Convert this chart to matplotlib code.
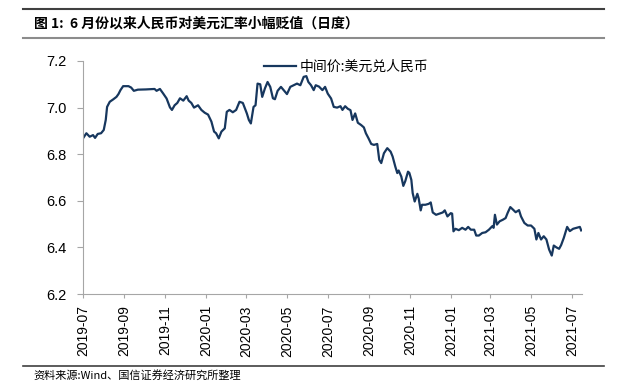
import pandas as pd
import matplotlib
matplotlib.use("Agg")
import matplotlib.pyplot as plt
import matplotlib.dates as mdates
from matplotlib.lines import Line2D

plt.rcParams['font.family'] = ['Liberation Sans', 'Noto Sans CJK SC', 'DejaVu Sans']

# central parity USD/CNY
dates = [
    "2019-07-01", "2019-07-06", "2019-07-11", "2019-07-16", "2019-07-19", "2019-07-23",
    "2019-07-28", "2019-08-01", "2019-08-04", "2019-08-06", "2019-08-10", "2019-08-15",
    "2019-08-20", "2019-08-23", "2019-08-26", "2019-08-30", "2019-09-07", "2019-09-11",
    "2019-09-15", "2019-09-21", "2019-10-03", "2019-10-16", "2019-10-19", "2019-10-24",
    "2019-10-29", "2019-11-03", "2019-11-08", "2019-11-11", "2019-11-15", "2019-11-19",
    "2019-11-23", "2019-11-28", "2019-12-03", "2019-12-06", "2019-12-10", "2019-12-14",
    "2019-12-20", "2019-12-25", "2019-12-30", "2020-01-04", "2020-01-09", "2020-01-13",
    "2020-01-16", "2020-01-20", "2020-01-24", "2020-01-29", "2020-02-01", "2020-02-05",
    "2020-02-10", "2020-02-15", "2020-02-20", "2020-02-25", "2020-03-02", "2020-03-05",
    "2020-03-08", "2020-03-12", "2020-03-15", "2020-03-18", "2020-03-22", "2020-03-25",
    "2020-03-29", "2020-04-02", "2020-04-06", "2020-04-10", "2020-04-13", "2020-04-17",
    "2020-04-22", "2020-04-26", "2020-05-01", "2020-05-06", "2020-05-11", "2020-05-16",
    "2020-05-21", "2020-05-26", "2020-05-30", "2020-06-02", "2020-06-06", "2020-06-10",
    "2020-06-13", "2020-06-18", "2020-06-23", "2020-06-27", "2020-07-01", "2020-07-06",
    "2020-07-10", "2020-07-15", "2020-07-20", "2020-07-23", "2020-07-27", "2020-07-31",
    "2020-08-04", "2020-08-07", "2020-08-11", "2020-08-15", "2020-08-20", "2020-08-24",
    "2020-08-27", "2020-08-31", "2020-09-04", "2020-09-08", "2020-09-13", "2020-09-16",
    "2020-09-19", "2020-09-23", "2020-09-28", "2020-10-03", "2020-10-06", "2020-10-10",
    "2020-10-13", "2020-10-15", "2020-10-19", "2020-10-22", "2020-10-25", "2020-10-29",
    "2020-10-31", "2020-11-03", "2020-11-05", "2020-11-08", "2020-11-12", "2020-11-14",
    "2020-11-17", "2020-11-19", "2020-11-24", "2020-11-29", "2020-12-02", "2020-12-05",
    "2020-12-10", "2020-12-15", "2020-12-20", "2020-12-23", "2020-12-27", "2021-01-01",
    "2021-01-03", "2021-01-05", "2021-01-08", "2021-01-13", "2021-01-18", "2021-01-23",
    "2021-01-27", "2021-01-31", "2021-02-05", "2021-02-08", "2021-02-12", "2021-02-17",
    "2021-02-22", "2021-02-27", "2021-03-04", "2021-03-06", "2021-03-08", "2021-03-11",
    "2021-03-15", "2021-03-20", "2021-03-24", "2021-03-27", "2021-03-31", "2021-04-03",
    "2021-04-08", "2021-04-13", "2021-04-16", "2021-04-21", "2021-04-26", "2021-05-01",
    "2021-05-06", "2021-05-09", "2021-05-12", "2021-05-16", "2021-05-20", "2021-05-24",
    "2021-05-28", "2021-06-01", "2021-06-04", "2021-06-08", "2021-06-12", "2021-06-15",
    "2021-06-19", "2021-06-24", "2021-06-28", "2021-07-03", "2021-07-08", "2021-07-13",
    "2021-07-15",
]
rates = [
    6.868, 6.890, 6.875, 6.882, 6.870, 6.887,
    6.890, 6.904, 6.947, 7.003, 7.025, 7.035,
    7.046, 7.058, 7.075, 7.092, 7.092, 7.086,
    7.072, 7.077, 7.078, 7.080, 7.072, 7.080,
    7.060, 7.039, 7.001, 6.990, 7.010, 7.020,
    7.040, 7.030, 7.049, 7.030, 7.020, 7.000,
    7.010, 6.990, 6.978, 6.970, 6.940, 6.897,
    6.890, 6.868, 6.897, 6.911, 6.982, 6.990,
    6.980, 6.990, 7.025, 7.020, 6.975, 6.947,
    6.932, 7.003, 7.010, 7.103, 7.100, 7.046,
    7.082, 7.110, 7.089, 7.040, 7.036, 7.072,
    7.089, 7.075, 7.058, 7.089, 7.096, 7.103,
    7.096, 7.132, 7.135, 7.110, 7.096, 7.075,
    7.096, 7.090, 7.075, 7.089, 7.060, 7.039,
    7.003, 7.000, 7.006, 6.990, 7.006, 6.995,
    6.989, 6.947, 6.975, 6.935, 6.925, 6.915,
    6.890, 6.868, 6.844, 6.840, 6.844, 6.776,
    6.762, 6.804, 6.826, 6.811, 6.790, 6.747,
    6.719, 6.730, 6.704, 6.664, 6.685, 6.725,
    6.720, 6.690, 6.633, 6.597, 6.630, 6.610,
    6.559, 6.583, 6.583, 6.587, 6.593, 6.550,
    6.540, 6.545, 6.550, 6.559, 6.533, 6.547,
    6.545, 6.469, 6.480, 6.474, 6.484, 6.476,
    6.488, 6.476, 6.476, 6.451, 6.451, 6.462,
    6.465, 6.476, 6.491, 6.484, 6.540, 6.498,
    6.512, 6.519, 6.526, 6.548, 6.573, 6.565,
    6.551, 6.560, 6.533, 6.505, 6.494, 6.494,
    6.480, 6.434, 6.462, 6.434, 6.448, 6.434,
    6.391, 6.365, 6.408, 6.400, 6.394, 6.410,
    6.441, 6.488, 6.470, 6.480, 6.484, 6.488,
    6.473,
]
series_label = "中间价:美元兑人民币"
title = "图 1:  6 月份以来人民币对美元汇率小幅贬值（日度）"
source = "资料来源:Wind、国信证券经济研究所整理"

df = pd.DataFrame({"date": pd.to_datetime(dates), "rate": rates})

fig = plt.figure(figsize=(6.27, 3.81), dpi=100)
ax = fig.add_axes([0.1324, 0.2283, 0.7956, 0.6116])

ax.plot(df["date"], df["rate"], color="#17375E", lw=1.6, label=series_label)

ax.set_ylim(6.2, 7.2)
ax.set_yticks([6.2, 6.4, 6.6, 6.8, 7.0, 7.2])
ax.yaxis.set_major_formatter(plt.FormatStrFormatter("%.1f"))
ax.set_xlim(pd.Timestamp("2019-07-01"), pd.Timestamp("2021-07-16"))
ax.xaxis.set_major_locator(mdates.MonthLocator(bymonth=[1, 3, 5, 7, 9, 11]))
ax.xaxis.set_major_formatter(mdates.DateFormatter("%Y-%m"))

for s in ["top", "right"]:
    ax.spines[s].set_visible(False)
for s in ["left", "bottom"]:
    ax.spines[s].set_color("#A6A6A6")
    ax.spines[s].set_linewidth(0.8)
ax.tick_params(axis="y", colors="#A6A6A6", labelcolor="black", length=4, width=0.8, pad=8, labelsize=10.5)
ax.tick_params(axis="x", colors="#A6A6A6", labelcolor="black", length=3, width=0.8, pad=5, labelsize=10,
               labelrotation=90)

leg = ax.legend(loc="upper center", bbox_to_anchor=(0.528, 1.06), frameon=False, handlelength=2.3,
                handletextpad=0.3, prop={"family": ["Noto Sans CJK SC", "DejaVu Sans"], "size": 10})

# header / footer rules
fig.add_artist(Line2D([0.0367, 0.9633], [0.9756, 0.9756], color="#404040", lw=1.5))
fig.add_artist(Line2D([0.0367, 0.9633], [0.9003, 0.9003], color="#8C8C8C", lw=1.5))
fig.add_artist(Line2D([0.0367, 0.9633], [0.0394, 0.0394], color="#404040", lw=1.2))

fig.text(0.054, 0.939, title, fontsize=10, fontweight="bold", va="center",
         family=["Noto Sans CJK SC", "DejaVu Sans"])
fig.text(0.053, 0.016, source, fontsize=8, va="center",
         family=["Noto Sans CJK SC", "DejaVu Sans"])

plt.savefig("out.png", dpi=100)
